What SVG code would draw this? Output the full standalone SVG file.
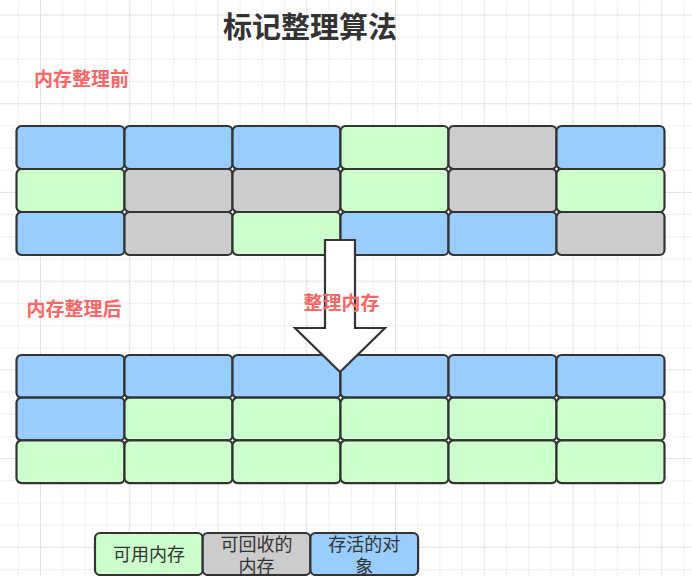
<svg xmlns="http://www.w3.org/2000/svg" width="692" height="576" viewBox="0 0 692 576">
<style>
.minor{stroke:#efefef;stroke-width:1;fill:none}
.major{stroke:#e3e3e3;stroke-width:1;fill:none}
.c{stroke:#333333;stroke-width:2.2}
.b{fill:#99CCFF}
.g{fill:#CCFFCC}
.y{fill:#CCCCCC}
.title{font-family:"Noto Sans CJK SC","Noto Sans",sans-serif;font-weight:bold;font-size:29px;fill:#333333}
.lbl{font-family:"Noto Sans CJK SC","Noto Sans",sans-serif;font-weight:bold;font-size:19px;fill:#FF6666}
.lg{font-family:"Noto Sans CJK SC","Noto Sans",sans-serif;font-size:18px;fill:#333333}
</style>
<defs>
<rect id="cellT" width="108" height="43" rx="5"/>
<rect id="cellB" width="108" height="42.7" rx="5"/>
</defs>
<rect width="692" height="576" fill="#ffffff"/>
<g id="grid">
<path class="minor" d="M18.3 0V576M62.68 0V576M84.87 0V576M107.06 0V576M151.44 0V576M173.63 0V576M195.82 0V576M240.2 0V576M262.39 0V576M284.58 0V576M328.96 0V576M351.15 0V576M373.34 0V576M417.72 0V576M439.91 0V576M462.1 0V576M506.48 0V576M528.67 0V576M550.86 0V576M595.24 0V576M617.43 0V576M639.62 0V576M684 0V576
M0 37.18H692M0 59.36H692M0 81.54H692M0 125.9H692M0 148.08H692M0 170.26H692M0 214.62H692M0 236.8H692M0 258.98H692M0 303.34H692M0 325.52H692M0 347.7H692M0 392.06H692M0 414.24H692M0 436.42H692M0 480.78H692M0 502.96H692M0 525.14H692M0 569.5H692"/>
<path class="major" d="M40.49 0V576M129.25 0V576M218.01 0V576M306.77 0V576M395.53 0V576M484.29 0V576M573.05 0V576M661.81 0V576
M0 15H692M0 103.72H692M0 192.44H692M0 281.16H692M0 369.88H692M0 458.6H692M0 547.32H692"/>
</g>
<text class="title" x="310" y="25" text-anchor="middle" dominant-baseline="central">标记整理算法</text>
<text class="lbl" x="81.5" y="77.5" text-anchor="middle" dominant-baseline="central">内存整理前</text>
<text class="lbl" x="74" y="307.5" text-anchor="middle" dominant-baseline="central">内存整理后</text>
<g id="before">
<g id="t11"><use href="#cellT" class="c b" x="16.5" y="126"/></g>
<g id="t12"><use href="#cellT" class="c b" x="124.5" y="126"/></g>
<g id="t13"><use href="#cellT" class="c b" x="232.5" y="126"/></g>
<g id="t14"><use href="#cellT" class="c g" x="340.5" y="126"/></g>
<g id="t15"><use href="#cellT" class="c y" x="448.5" y="126"/></g>
<g id="t16"><use href="#cellT" class="c b" x="556.5" y="126"/></g>
<g id="t21"><use href="#cellT" class="c g" x="16.5" y="169"/></g>
<g id="t22"><use href="#cellT" class="c y" x="124.5" y="169"/></g>
<g id="t23"><use href="#cellT" class="c y" x="232.5" y="169"/></g>
<g id="t24"><use href="#cellT" class="c g" x="340.5" y="169"/></g>
<g id="t25"><use href="#cellT" class="c y" x="448.5" y="169"/></g>
<g id="t26"><use href="#cellT" class="c g" x="556.5" y="169"/></g>
<g id="t31"><use href="#cellT" class="c b" x="16.5" y="212"/></g>
<g id="t32"><use href="#cellT" class="c y" x="124.5" y="212"/></g>
<g id="t33"><use href="#cellT" class="c g" x="232.5" y="212"/></g>
<g id="t34"><use href="#cellT" class="c b" x="340.5" y="212"/></g>
<g id="t35"><use href="#cellT" class="c b" x="448.5" y="212"/></g>
<g id="t36"><use href="#cellT" class="c y" x="556.5" y="212"/></g>
</g>
<g id="after">
<g id="b11"><use href="#cellB" class="c b" x="16.5" y="355"/></g>
<g id="b12"><use href="#cellB" class="c b" x="124.5" y="355"/></g>
<g id="b13"><use href="#cellB" class="c b" x="232.5" y="355"/></g>
<g id="b14"><use href="#cellB" class="c b" x="340.5" y="355"/></g>
<g id="b15"><use href="#cellB" class="c b" x="448.5" y="355"/></g>
<g id="b16"><use href="#cellB" class="c b" x="556.5" y="355"/></g>
<g id="b21"><use href="#cellB" class="c b" x="16.5" y="397.7"/></g>
<g id="b22"><use href="#cellB" class="c g" x="124.5" y="397.7"/></g>
<g id="b23"><use href="#cellB" class="c g" x="232.5" y="397.7"/></g>
<g id="b24"><use href="#cellB" class="c g" x="340.5" y="397.7"/></g>
<g id="b25"><use href="#cellB" class="c g" x="448.5" y="397.7"/></g>
<g id="b26"><use href="#cellB" class="c g" x="556.5" y="397.7"/></g>
<g id="b31"><use href="#cellB" class="c g" x="16.5" y="440.4"/></g>
<g id="b32"><use href="#cellB" class="c g" x="124.5" y="440.4"/></g>
<g id="b33"><use href="#cellB" class="c g" x="232.5" y="440.4"/></g>
<g id="b34"><use href="#cellB" class="c g" x="340.5" y="440.4"/></g>
<g id="b35"><use href="#cellB" class="c g" x="448.5" y="440.4"/></g>
<g id="b36"><use href="#cellB" class="c g" x="556.5" y="440.4"/></g>
</g>
<g id="connectors">
<g id="arrow"><polygon points="325,240 355,240 355,328 385,328 340,372 295,328 325,328" fill="#ffffff" stroke="#333333" stroke-width="2.2" stroke-linejoin="miter"/></g>
</g>
<text class="lbl" x="341.5" y="301.5" text-anchor="middle" dominant-baseline="central">整理内存</text>
<g id="legend-free"><rect class="c g" x="95" y="533" width="107.7" height="42" rx="5"/><text class="lg" x="148.9" y="553" text-anchor="middle" dominant-baseline="central">可用内存</text></g>
<g id="legend-garbage"><rect class="c y" x="202.7" y="533" width="107.7" height="42" rx="5"/><text class="lg" x="256.5" y="543" text-anchor="middle" dominant-baseline="central">可回收的</text><text class="lg" x="256.5" y="565" text-anchor="middle" dominant-baseline="central">内存</text></g>
<g id="legend-live"><rect class="c b" x="310.4" y="533" width="107.7" height="42" rx="5"/><text class="lg" x="364.2" y="543" text-anchor="middle" dominant-baseline="central">存活的对</text><text class="lg" x="364.2" y="565" text-anchor="middle" dominant-baseline="central">象</text></g>
</svg>
